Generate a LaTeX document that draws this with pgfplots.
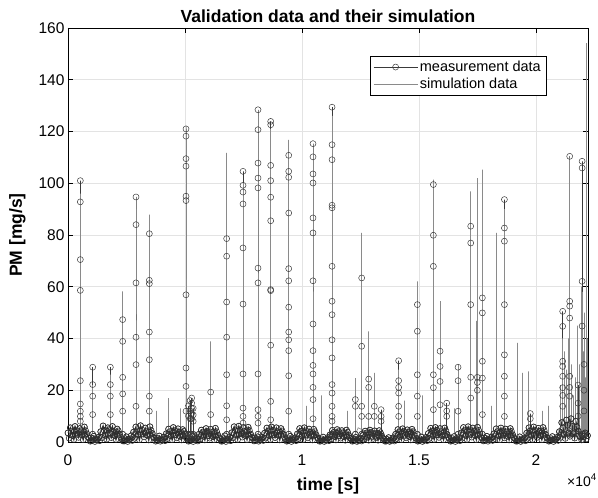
\documentclass[border=0pt]{standalone}
\usepackage{fontspec}
\setmainfont{Liberation Sans}
\usepackage{pgfplots}
\pgfplotsset{compat=1.18}
\definecolor{meas}{HTML}{3A3A3A}
\definecolor{band}{HTML}{2E2E2E}
\definecolor{simc}{HTML}{8A8A8A}
\begin{document}
\begin{tikzpicture}
\begin{axis}[name=ax,
 scale only axis, width=520pt, height=414pt,
 xmin=0, xmax=22222, ymin=0, ymax=160,
 xtick={0,5000,10000,15000,20000}, xticklabels={0,0.5,1,1.5,2},
 scaled x ticks=false,
 ytick={0,20,...,160},
 /pgf/number format/assume math mode=true,
 tick align=inside, major tick length=5pt,
 tick style={black, line width=0.5pt},
 grid=major, major grid style={gray!22, line width=0.5pt},
 axis line style={black, line width=0.7pt},
 ticklabel style={font=\fontsize{15.5}{16}\selectfont},
 xticklabel style={yshift=-9pt},
 title={Validation data and their simulation},
 title style={font=\bfseries\fontsize{17.5}{18}\selectfont, at={(axis description cs:0.5,1)}, anchor=south, inner sep=2pt, yshift=-3pt},
 xlabel={time [s]}, ylabel={PM [mg/s]},
 label style={font=\bfseries\fontsize{17.5}{18}\selectfont},
 xlabel style={at={(axis description cs:0.5,0)}, anchor=north, yshift=-32pt},
 ylabel style={at={(axis description cs:-0.075,0.5)}, anchor=south},
 legend style={at={(0.5808,0.933)}, anchor=north west, font=\fontsize{14.5}{16}\selectfont, draw=black, line width=0.6pt, inner xsep=3pt, inner ysep=3pt, row sep=1pt, cells={anchor=west}},
 legend image code/.code={\draw[#1, mark repeat=2, mark phase=2] plot coordinates {(0pt,0pt) (22pt,0pt) (44pt,0pt)};},
 unbounded coords=jump,
]
\addplot[meas, line width=0.6pt, mark=o, mark size=3pt, mark options={line width=0.5pt}] coordinates {
(0,3.5)(100,5.5)(200,2.5)(300,6)(400,3)(500,5.2)(600,2.8)(700,5.8)(800,3.2)(900,1.5)(1000,0.5)(1100,2.2)(1200,0.8)(1300,1.8)
(1400,4)(1500,6.2)(1600,2.6)(1700,5.5)(1800,3.4)(1900,6)(2000,2.5)(2100,5)(2200,3)(2300,1.2)(2400,0.4)(2500,2)(2600,0.9)(2700,2.4)
(2800,3.8)(2900,5.8)(3000,2.9)(3100,6.3)(3200,3.1)(3300,5.4)(3400,2.6)(3500,5.9)(3600,3.3)(3700,1.6)(3800,0.6)(3900,2.3)(4000,0.7)(4100,1.9)
(4200,3.2)(4300,5)(4400,2.4)(4500,5.6)(4600,2.8)(4700,5.1)(4800,2.2)(4900,4.8)(5000,3)(5100,1.4)(5200,0.5)(5300,2.1)(5400,0.9)(5500,1.7)
(5600,3)(5700,4.6)(5800,2.2)(5900,5.2)(6000,2.5)(6100,4.9)(6200,2.1)(6300,5.3)(6400,2.7)(6500,1.3)(6600,0.4)(6700,2.4)(6800,0.8)(6900,2)
(7000,3.6)(7100,5.9)(7200,2.7)(7300,6.1)(7400,3.2)(7500,5.6)(7600,2.4)(7700,5.7)(7800,3.1)(7900,1.5)(8000,0.6)(8100,2)(8200,0.7)(8300,1.8)
(8400,3.4)(8500,5.4)(8600,2.5)(8700,5.8)(8800,2.9)(8900,5.5)(9000,2.6)(9100,5.2)(9200,3)(9300,1.2)(9400,0.5)(9500,2.2)(9600,0.8)(9700,1.6)
(9800,3.1)(9900,5.2)(10000,2.3)(10100,5.5)(10200,2.7)(10300,5)(10400,2.4)(10500,4.9)(10600,2.8)(10700,1.4)(10800,0.4)(10900,1.9)(11000,0.7)(11100,1.7)
(11200,2.8)(11300,4.5)(11400,2.1)(11500,4.8)(11600,2.4)(11700,4.4)(11800,2)(11900,4.6)(12000,2.5)(12100,1.3)(12200,0.5)(12300,1.8)(12400,0.6)(12500,1.5)
(12600,2.6)(12700,4.2)(12800,1.9)(12900,4.6)(13000,2.2)(13100,4.3)(13200,1.8)(13300,4.4)(13400,2.3)(13500,1.2)(13600,0.4)(13700,1.7)(13800,0.6)(13900,1.6)
(14000,3)(14100,4.8)(14200,2.2)(14300,5.1)(14400,2.6)(14500,4.7)(14600,2.1)(14700,4.9)(14800,2.6)(14900,1.3)(15000,0.5)(15100,1.9)(15200,0.7)(15300,1.8)
(15400,3.3)(15500,5.3)(15600,2.5)(15700,5.6)(15800,2.8)(15900,5.2)(16000,2.4)(16100,5.4)(16200,2.9)(16300,1.4)(16400,0.5)(16500,2.1)(16600,0.8)(16700,1.7)
(16800,3.5)(16900,5.6)(17000,2.6)(17100,5.9)(17200,3)(17300,5.4)(17400,2.5)(17500,5.7)(17600,3.1)(17700,1.5)(17800,0.6)(17900,2.2)(18000,0.8)(18100,1.9)
(18200,3.2)(18300,5.1)(18400,2.4)(18500,5.4)(18600,2.7)(18700,5)(18800,2.2)(18900,5.2)(19000,2.8)(19100,1.3)(19200,0.4)(19300,2)(19400,0.7)(19500,1.6)
(19600,3.4)(19700,5.5)(19800,2.6)(19900,5.8)(20000,3)(20100,5.3)(20200,2.5)(20300,5.6)(20400,3)(20500,1.4)(20600,0.5)(20700,2.1)(20800,0.8)(20900,1.8)
(21000,4)(21100,7.5)(21200,3)(21300,8.5)(21400,3.5)(21500,9)(21600,3.2)(21700,8)(21800,4.2)(21900,2)(22000,1)(22100,3.5)(22200,2.5)
};
\addlegendentry{measurement data}
\addplot[forget plot, band, line width=1.3pt, mark=o, mark size=3pt, mark options={line width=0.6pt}] coordinates {
(50,1.5)(150,4.2)(250,1)(350,4.6)(450,1.8)(550,3.9)(650,0.9)(750,4.4)(850,2)(950,0.3)(1050,1.4)(1150,0.2)(1250,1.1)(1350,0.5)
(1450,1.6)(1550,4.5)(1650,1.1)(1750,4.8)(1850,1.7)(1950,4.1)(2050,1)(2150,4.3)(2250,1.9)(2350,0.4)(2450,1.3)(2550,0.2)(2650,1.2)(2750,0.6)
(2850,1.4)(2950,4.3)(3050,0.9)(3150,4.7)(3250,2)(3350,4)(3450,0.8)(3550,4.5)(3650,1.8)(3750,0.3)(3850,1.5)(3950,0.3)(4050,1)(4150,0.5)
(4250,1.3)(4350,4)(4450,0.9)(4550,4.4)(4650,1.6)(4750,3.8)(4850,0.8)(4950,4.1)(5050,1.7)(5150,0.3)(5250,1.2)(5350,0.2)(5450,1.1)(5550,0.4)
(5650,1.2)(5750,3.8)(5850,0.8)(5950,4.2)(6050,1.5)(6150,3.7)(6250,0.9)(6350,4)(6450,1.6)(6550,0.3)(6650,1.3)(6750,0.2)(6850,1)(6950,0.5)
(7050,1.6)(7150,4.4)(7250,1)(7350,4.7)(7450,1.9)(7550,4.1)(7650,0.9)(7750,4.5)(7850,1.8)(7950,0.4)(8050,1.4)(8150,0.3)(8250,1.1)(8350,0.6)
(8450,1.5)(8550,4.2)(8650,1)(8750,4.5)(8850,1.7)(8950,4)(9050,0.8)(9150,4.3)(9250,1.9)(9350,0.3)(9450,1.3)(9550,0.2)(9650,1.2)(9750,0.5)
(9850,1.3)(9950,4.1)(10050,0.9)(10150,4.3)(10250,1.6)(10350,3.8)(10450,0.8)(10550,4)(10650,1.7)(10750,0.3)(10850,1.2)(10950,0.2)(11050,1)(11150,0.5)
(11250,1.2)(11350,3.7)(11450,0.8)(11550,4)(11650,1.5)(11750,3.6)(11850,0.7)(11950,3.8)(12050,1.5)(12150,0.3)(12250,1.1)(12350,0.2)(12450,1)(12550,0.4)
(12650,1.1)(12750,3.5)(12850,0.7)(12950,3.8)(13050,1.4)(13150,3.4)(13250,0.7)(13350,3.6)(13450,1.4)(13550,0.3)(13650,1)(13750,0.2)(13850,0.9)(13950,0.4)
(14050,1.3)(14150,3.9)(14250,0.9)(14350,4.2)(14450,1.6)(14550,3.8)(14650,0.8)(14750,4)(14850,1.6)(14950,0.3)(15050,1.2)(15150,0.2)(15250,1.1)(15350,0.5)
(15450,1.4)(15550,4.2)(15650,1)(15750,4.5)(15850,1.8)(15950,4)(16050,0.9)(16150,4.3)(16250,1.8)(16350,0.3)(16450,1.3)(16550,0.2)(16650,1.1)(16750,0.5)
(16850,1.5)(16950,4.4)(17050,1)(17150,4.7)(17250,1.9)(17350,4.2)(17450,0.9)(17550,4.5)(17650,1.9)(17750,0.4)(17850,1.4)(17950,0.3)(18050,1.2)(18150,0.6)
(18250,1.3)(18350,4)(18450,0.9)(18550,4.3)(18650,1.6)(18750,3.9)(18850,0.8)(18950,4.1)(19050,1.7)(19150,0.3)(19250,1.2)(19350,0.2)(19450,1)(19550,0.5)
(19650,1.4)(19750,4.3)(19850,1)(19950,4.6)(20050,1.8)(20150,4.1)(20250,0.9)(20350,4.4)(20450,1.8)(20550,0.3)(20650,1.3)(20750,0.2)(20850,1.1)(20950,0.6)
(21050,1.8)(21150,5.5)(21250,1.4)(21350,6.5)(21450,2.2)(21550,6)(21650,1.5)(21750,5.8)(21850,2.4)(21950,0.8)(22050,2.2)(22150,1.2)
};
\addplot[forget plot, band, line width=1.1pt, mark=o, mark size=3pt, mark options={line width=0.6pt}] coordinates {
(0,3.5)(100,5.5)(200,2.5)(300,6)(400,3)(500,5.2)(600,2.8)(700,5.8)(800,3.2)(900,1.5)(1000,0.5)(1100,2.2)(1200,0.8)(1300,1.8)
(1400,4)(1500,6.2)(1600,2.6)(1700,5.5)(1800,3.4)(1900,6)(2000,2.5)(2100,5)(2200,3)(2300,1.2)(2400,0.4)(2500,2)(2600,0.9)(2700,2.4)
(2800,3.8)(2900,5.8)(3000,2.9)(3100,6.3)(3200,3.1)(3300,5.4)(3400,2.6)(3500,5.9)(3600,3.3)(3700,1.6)(3800,0.6)(3900,2.3)(4000,0.7)(4100,1.9)
(4200,3.2)(4300,5)(4400,2.4)(4500,5.6)(4600,2.8)(4700,5.1)(4800,2.2)(4900,4.8)(5000,3)(5100,1.4)(5200,0.5)(5300,2.1)(5400,0.9)(5500,1.7)
(5600,3)(5700,4.6)(5800,2.2)(5900,5.2)(6000,2.5)(6100,4.9)(6200,2.1)(6300,5.3)(6400,2.7)(6500,1.3)(6600,0.4)(6700,2.4)(6800,0.8)(6900,2)
(7000,3.6)(7100,5.9)(7200,2.7)(7300,6.1)(7400,3.2)(7500,5.6)(7600,2.4)(7700,5.7)(7800,3.1)(7900,1.5)(8000,0.6)(8100,2)(8200,0.7)(8300,1.8)
(8400,3.4)(8500,5.4)(8600,2.5)(8700,5.8)(8800,2.9)(8900,5.5)(9000,2.6)(9100,5.2)(9200,3)(9300,1.2)(9400,0.5)(9500,2.2)(9600,0.8)(9700,1.6)
(9800,3.1)(9900,5.2)(10000,2.3)(10100,5.5)(10200,2.7)(10300,5)(10400,2.4)(10500,4.9)(10600,2.8)(10700,1.4)(10800,0.4)(10900,1.9)(11000,0.7)(11100,1.7)
(11200,2.8)(11300,4.5)(11400,2.1)(11500,4.8)(11600,2.4)(11700,4.4)(11800,2)(11900,4.6)(12000,2.5)(12100,1.3)(12200,0.5)(12300,1.8)(12400,0.6)(12500,1.5)
(12600,2.6)(12700,4.2)(12800,1.9)(12900,4.6)(13000,2.2)(13100,4.3)(13200,1.8)(13300,4.4)(13400,2.3)(13500,1.2)(13600,0.4)(13700,1.7)(13800,0.6)(13900,1.6)
(14000,3)(14100,4.8)(14200,2.2)(14300,5.1)(14400,2.6)(14500,4.7)(14600,2.1)(14700,4.9)(14800,2.6)(14900,1.3)(15000,0.5)(15100,1.9)(15200,0.7)(15300,1.8)
(15400,3.3)(15500,5.3)(15600,2.5)(15700,5.6)(15800,2.8)(15900,5.2)(16000,2.4)(16100,5.4)(16200,2.9)(16300,1.4)(16400,0.5)(16500,2.1)(16600,0.8)(16700,1.7)
(16800,3.5)(16900,5.6)(17000,2.6)(17100,5.9)(17200,3)(17300,5.4)(17400,2.5)(17500,5.7)(17600,3.1)(17700,1.5)(17800,0.6)(17900,2.2)(18000,0.8)(18100,1.9)
(18200,3.2)(18300,5.1)(18400,2.4)(18500,5.4)(18600,2.7)(18700,5)(18800,2.2)(18900,5.2)(19000,2.8)(19100,1.3)(19200,0.4)(19300,2)(19400,0.7)(19500,1.6)
(19600,3.4)(19700,5.5)(19800,2.6)(19900,5.8)(20000,3)(20100,5.3)(20200,2.5)(20300,5.6)(20400,3)(20500,1.4)(20600,0.5)(20700,2.1)(20800,0.8)(20900,1.8)
(21000,4)(21100,7.5)(21200,3)(21300,8.5)(21400,3.5)(21500,9)(21600,3.2)(21700,8)(21800,4.2)(21900,2)(22000,1)(22100,3.5)(22200,2.5)
};
\addplot[forget plot, meas, line width=0.6pt, mark=o, mark size=3pt, mark options={line width=0.5pt}] coordinates {
(527,3)(527,8)(527,9.9)(527,11.9)(527,14.7)(527,23.7)(527,58.6)(527,70.5)(527,92.8)(527,101)(527,3)(527,nan)
(1055,3)(1055,10.6)(1055,17.7)(1055,22.2)(1055,28.9)(1055,3)(1055,nan)
(1810,3)(1810,10.6)(1810,17.7)(1810,22.2)(1810,28.9)(1810,3)(1810,nan)
(2337,3)(2337,11.9)(2337,18.6)(2337,25)(2337,38.9)(2337,47.3)(2337,3)(2337,nan)
(2906,3)(2906,13.8)(2906,29.9)(2906,40.5)(2906,61.5)(2906,84)(2906,94.7)(2906,3)(2906,nan)
(3476,3)(3476,11.9)(3476,17.7)(3476,31.8)(3476,42.5)(3476,61.2)(3476,62.5)(3476,80.5)(3476,3)(3476,nan)
(5043,3)(5043,11.9)(5043,21.5)(5043,28.6)(5043,56.9)(5043,93.3)(5043,95)(5043,106.6)(5043,109.5)(5043,118.2)(5043,121)(5043,3)(5043,nan)
(5150,3)(5150,10)(5150,14)(5150,3)(5150,nan)
(5220,3)(5220,9)(5220,12)(5220,16)(5220,3)(5220,nan)
(5285,3)(5285,9)(5285,11)(5285,13)(5285,15)(5285,17)(5285,3)(5285,nan)
(5350,3)(5350,8)(5350,10.5)(5350,13)(5350,3)(5350,nan)
(6097,3)(6097,10.6)(6097,19.3)(6097,3)(6097,nan)
(6780,3)(6780,8.6)(6780,14)(6780,26)(6780,40.5)(6780,54.1)(6780,71.8)(6780,78.6)(6780,3)(6780,nan)
(7479,3)(7479,7.3)(7479,9.9)(7479,13.1)(7479,26.3)(7479,53.3)(7479,75)(7479,92)(7479,96.6)(7479,99.2)(7479,104.6)(7479,3)(7479,nan)
(8120,3)(8120,7.3)(8120,9.9)(8120,12.5)(8120,26.3)(8120,61.5)(8120,67.2)(8120,98.2)(8120,102)(8120,107.8)(8120,120.7)(8120,128.4)(8120,3)(8120,nan)
(8662,3)(8662,8.6)(8662,15.7)(8662,37.4)(8662,58.5)(8662,58.9)(8662,85.5)(8662,94.6)(8662,101)(8662,106.9)(8662,122.6)(8662,123.9)(8662,3)(8662,nan)
(9432,3)(9432,11.9)(9432,25.6)(9432,35.3)(9432,39.5)(9432,42.5)(9432,52.1)(9432,62.3)(9432,67)(9432,88.5)(9432,102.3)(9432,104.6)(9432,110.8)(9432,3)(9432,nan)
(10470,3)(10470,9)(10470,16.4)(10470,21.1)(10470,26.3)(10470,29.6)(10470,35.3)(10470,45.6)(10470,62.3)(10470,80.8)(10470,86.6)(10470,100.1)(10470,103.6)(10470,110.2)(10470,115.3)(10470,3)(10470,nan)
(11284,3)(11284,8)(11284,9.9)(11284,13.8)(11284,18.9)(11284,22.2)(11284,32.5)(11284,39.5)(11284,49.2)(11284,54.4)(11284,67.9)(11284,90.5)(11284,91.5)(11284,109.1)(11284,114.9)(11284,129.4)(11284,3)(11284,nan)
(12280,3)(12280,13.8)(12280,16.4)(12280,3)(12280,nan)
(12550,3)(12550,9.9)(12550,13.8)(12550,37)(12550,63.4)(12550,3)(12550,nan)
(12850,3)(12850,9.9)(12850,21.1)(12850,24.3)(12850,3)(12850,nan)
(13090,3)(13090,9.9)(13090,13.8)(13090,3)(13090,nan)
(13380,3)(13380,8)(13380,9.9)(13380,12.5)(13380,3)(13380,nan)
(14130,3)(14130,9.9)(14130,13.8)(14130,18.9)(14130,21.1)(14130,23.7)(14130,31.4)(14130,3)(14130,nan)
(14930,3)(14930,9.9)(14930,17.7)(14930,26)(14930,42.8)(14930,53.1)(14930,3)(14930,nan)
(15614,3)(15614,12.5)(15614,21)(15614,26)(15614,67.9)(15614,79.9)(15614,99.5)(15614,3)(15614,nan)
(15900,3)(15900,14.4)(15900,23.4)(15900,29.2)(15900,35.1)(15900,3)(15900,nan)
(16185,3)(16185,9.9)(16185,12)(16185,15)(16185,3)(16185,nan)
(16668,3)(16668,11.9)(16668,23.7)(16668,28.9)(16668,3)(16668,nan)
(17210,3)(17210,17)(17210,25)(17210,53.1)(17210,76.9)(17210,83.4)(17210,3)(17210,nan)
(17494,3)(17494,20)(17494,23)(17494,25)(17494,3)(17494,nan)
(17708,3)(17708,10.6)(17708,24.7)(17708,31.2)(17708,49.9)(17708,55.7)(17708,3)(17708,nan)
(18650,3)(18650,9.9)(18650,17.7)(18650,25.4)(18650,33.7)(18650,53.1)(18650,77.6)(18650,82.7)(18650,93.7)(18650,3)(18650,nan)
(19755,3)(19755,9)(19755,11)(19755,3)(19755,nan)
(21140,3)(21140,13.8)(21140,18)(21140,21)(21140,25.4)(21140,29.2)(21140,31.2)(21140,44.7)(21140,50.5)(21140,3)(21140,nan)
(21440,3)(21440,17.7)(21440,21.1)(21440,25.4)(21440,47.9)(21440,52.5)(21440,54.4)(21440,110.4)(21440,3)(21440,nan)
(21800,3)(21800,10)(21800,15)(21800,22)(21800,3)(21800,nan)
(21970,3)(21970,44.8)(21970,62.1)(21970,105.9)(21970,108.5)(21970,3)(21970,nan)
(22050,3)(22050,12)(22050,20)(22050,30)(22050,3)(22050,nan)
};
\addplot[simc, line width=0.6pt] coordinates {
(0,4.5)(200,5)(400,4.2)(600,4.8)(800,4.4)(1000,1.4)(1200,1)
(1400,4.6)(1600,5.1)(1800,4.3)(2000,4.9)(2200,4.2)(2400,1.5)(2600,1.1)
(2800,4.4)(3000,5.2)(3200,4.5)(3400,4.7)(3600,4.3)(3800,1.3)(4000,1)
(4200,4.1)(4400,4.7)(4600,4)(4800,4.5)(5000,4.2)(5200,1.4)(5400,1.2)
(5600,3.9)(5800,4.4)(6000,3.8)(6200,4.6)(6400,4)(6600,1.3)(6800,1)
(7000,4.5)(7200,5.1)(7400,4.4)(7600,4.9)(7800,4.3)(8000,1.5)(8200,1.1)
(8400,4.3)(8600,4.9)(8800,4.2)(9000,4.7)(9200,4.1)(9400,1.4)(9600,1)
(9800,4.1)(10000,4.6)(10200,4)(10400,4.5)(10600,3.9)(10800,1.3)(11000,1)
(11200,3.8)(11400,4.3)(11600,3.7)(11800,4.2)(12000,3.6)(12200,1.2)(12400,5.5)
(12600,4.6)(12800,3.8)(13000,3)(13200,2.2)(13400,1.5)(13600,1.1)(13800,1.3)
(14000,4)(14200,4.5)(14400,3.9)(14600,5.5)(14800,4.6)(15000,3.6)(15200,2.6)
(15400,1.8)(15600,4.8)(15800,4.3)(16000,4.9)(16200,4.2)(16400,1.4)(16600,1.1)
(16800,4.4)(17000,5)(17200,4.3)(17400,4.8)(17600,4.2)(17800,1.5)(18000,1.1)
(18200,4.2)(18400,4.8)(18600,4.1)(18800,4.6)(19000,4)(19200,1.3)(19400,1)
(19600,4.3)(19800,4.9)(20000,4.2)(20200,4.7)(20400,4.1)(20600,1.4)(20800,1.1)
(21000,5)(21200,6.5)(21400,5.5)(21600,7)(21800,6)(22000,4)(22200,5)
};
\addlegendentry{simulation data}
\addplot[forget plot, simc, line width=0.6pt] coordinates {
(527,3)(527,96)(527,3)(527,nan)
(1055,3)(1055,22)(1055,3)(1055,nan)
(1810,3)(1810,26)(1810,3)(1810,nan)
(2337,3)(2337,58.2)(2337,3)(2337,nan)
(2906,3)(2906,90)(2906,3)(2906,nan)
(3476,3)(3476,87.9)(3476,3)(3476,nan)
(3790,3)(3790,12)(3790,3)(3790,nan)
(4287,3)(4287,17)(4287,3)(4287,nan)
(4787,3)(4787,13)(4787,3)(4787,nan)
(5043,3)(5043,122)(5043,3)(5043,nan)
(5285,3)(5285,14)(5285,3)(5285,nan)
(6097,3)(6097,38.9)(6097,3)(6097,nan)
(6780,3)(6780,111.7)(6780,3)(6780,nan)
(7479,3)(7479,100)(7479,3)(7479,nan)
(8120,3)(8120,126)(8120,3)(8120,nan)
(8662,3)(8662,121)(8662,3)(8662,nan)
(9432,3)(9432,116.8)(9432,3)(9432,nan)
(10172,3)(10172,14)(10172,3)(10172,nan)
(10470,3)(10470,112)(10470,3)(10470,nan)
(10813,3)(10813,18)(10813,3)(10813,nan)
(11284,3)(11284,126)(11284,3)(11284,nan)
(11953,3)(11953,12)(11953,3)(11953,nan)
(12280,3)(12280,24.7)(12280,3)(12280,nan)
(12550,3)(12550,80.8)(12550,3)(12550,nan)
(12850,3)(12850,42.8)(12850,3)(12850,nan)
(13090,3)(13090,26.7)(13090,3)(13090,nan)
(14130,3)(14130,28)(14130,3)(14130,nan)
(14360,3)(14360,16)(14360,3)(14360,nan)
(14930,3)(14930,62.1)(14930,3)(14930,nan)
(15130,3)(15130,18)(15130,3)(15130,nan)
(15614,3)(15614,101.4)(15614,3)(15614,nan)
(15900,3)(15900,54.4)(15900,3)(15900,nan)
(16500,3)(16500,13)(16500,3)(16500,nan)
(16668,3)(16668,29.9)(16668,3)(16668,nan)
(17210,3)(17210,96.9)(17210,3)(17210,nan)
(17450,3)(17450,46.8)(17450,3)(17450,nan)
(17494,3)(17494,102)(17494,3)(17494,nan)
(17708,3)(17708,105.3)(17708,3)(17708,nan)
(18080,3)(18080,14)(18080,3)(18080,nan)
(18322,3)(18322,80.8)(18322,3)(18322,nan)
(18650,3)(18650,90)(18650,3)(18650,nan)
(19190,3)(19190,38.3)(19190,3)(19190,nan)
(19435,3)(19435,26.7)(19435,3)(19435,nan)
(19660,3)(19660,27.3)(19660,3)(19660,nan)
(20260,3)(20260,12)(20260,3)(20260,nan)
(20545,3)(20545,14)(20545,3)(20545,nan)
(21050,3)(21050,22)(21050,3)(21050,nan)
(21140,3)(21140,40)(21140,3)(21140,nan)
(21200,3)(21200,35)(21200,3)(21200,nan)
(21300,3)(21300,28)(21300,3)(21300,nan)
(21380,3)(21380,40)(21380,3)(21380,nan)
(21440,3)(21440,110)(21440,3)(21440,nan)
(21520,3)(21520,30)(21520,3)(21520,nan)
(21600,3)(21600,18)(21600,3)(21600,nan)
(21700,3)(21700,25)(21700,3)(21700,nan)
(21780,3)(21780,45)(21780,3)(21780,nan)
(21850,3)(21850,30)(21850,3)(21850,nan)
(21920,3)(21920,60)(21920,3)(21920,nan)
(21970,3)(21970,58)(21970,3)(21970,nan)
(22000,3)(22000,35)(22000,3)(22000,nan)
(22060,3)(22060,50)(22060,3)(22060,nan)
(22100,3)(22100,25)(22100,3)(22100,nan)
(22140,3)(22140,154.2)(22140,3)(22140,nan)
(22180,3)(22180,40)(22180,3)(22180,nan)
};
\end{axis}
\node[font=\fontsize{14}{14}\selectfont, anchor=north east, inner sep=1pt] at ([xshift=10pt, yshift=-31pt]ax.south east) {×10\textsuperscript{4}};
\path ([shift={(-68pt,-50pt)}]ax.south west) rectangle ([shift={(10pt,28pt)}]ax.north east);
\end{tikzpicture}
\end{document}
